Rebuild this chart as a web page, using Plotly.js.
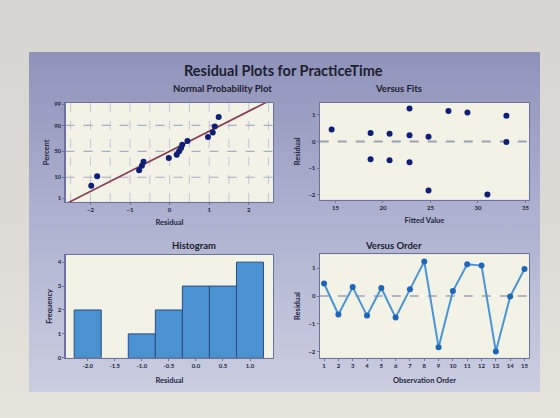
<!DOCTYPE html>
<html>
<head>
<meta charset="utf-8">
<script src="https://cdn.plot.ly/plotly-3.0.1.min.js"></script>
<style>
html,body{margin:0;padding:0;width:560px;height:418px;overflow:hidden;
  background:linear-gradient(to bottom,#d6d5d1 0%,#dcdbd6 60%,#e6e4dc 100%);}
#panel{position:absolute;left:29px;top:52px;width:511px;height:340px;
  background:linear-gradient(to bottom,#8f93ba 0%,#acafce 45%,#cbcee0 100%);}
#chart{position:absolute;left:0;top:0;width:560px;height:418px;}
</style>
</head>
<body>
<div id="panel"></div>
<div id="chart"></div>
<script>
// ---- data ----
var observation = [1,2,3,4,5,6,7,8,9,10,11,12,13,14,15];
var residuals   = [0.45,-0.66,0.32,-0.70,0.29,-0.77,0.24,1.24,-1.83,0.18,1.14,1.09,-1.98,-0.02,0.97];
var fittedValues= [14.6,18.7,18.7,20.7,20.7,22.8,22.8,22.8,24.8,24.8,26.9,28.9,31.0,33.0,33.0];
var probPercent = [4.5,11.0,17.5,24.0,30.5,37.0,43.5,50.0,56.5,63.0,69.5,76.0,82.5,89.0,95.5];
var binCenters  = [-2.0,-1.5,-1.0,-0.5,0.0,0.5,1.0];
var binCounts   = [2,0,1,2,3,3,4];
var percentTicks = [1,10,50,90,99];
var fitTicks = [15,20,25,30,35];
var histTicks = [-2.0,-1.5,-1.0,-0.5,0.0,0.5,1.0];
var histTickText = ["-2.0","-1.5","-1.0","-0.5","0.0","0.5","1.0"];

// inverse normal CDF (probability-scale transform)
function invNorm(p){
  var a=[-39.69683028665376,220.9460984245205,-275.9285104469687,138.3577518672690,-30.66479806614716,2.506628277459239];
  var b=[-54.47609879822406,161.5858368580409,-155.6989798598866,66.80131188771972,-13.28068155288572];
  var c=[-0.007784894002430293,-0.3223964580411365,-2.400758277161838,-2.549732539343734,4.374664141464968,2.938163982698783];
  var d=[0.007784695709041462,0.3224671290700398,2.445134137142996,3.754408661907416];
  var pl=0.02425,q,r;
  if(p<pl){q=Math.sqrt(-2*Math.log(p));return (((((c[0]*q+c[1])*q+c[2])*q+c[3])*q+c[4])*q+c[5])/((((d[0]*q+d[1])*q+d[2])*q+d[3])*q+1);}
  if(p>1-pl){q=Math.sqrt(-2*Math.log(1-p));return -(((((c[0]*q+c[1])*q+c[2])*q+c[3])*q+c[4])*q+c[5])/((((d[0]*q+d[1])*q+d[2])*q+d[3])*q+1);}
  q=p-0.5;r=q*q;return (((((a[0]*r+a[1])*r+a[2])*r+a[3])*r+a[4])*r+a[5])*q/(((((b[0]*r+b[1])*r+b[2])*r+b[3])*r+b[4])*r+1);
}

var sorted = residuals.slice().sort(function(a,b){return a-b;});
var n = residuals.length;
var mean = residuals.reduce(function(s,v){return s+v;},0)/n;
var sd = Math.sqrt(residuals.reduce(function(s,v){return s+(v-mean)*(v-mean);},0)/(n-1));
var zLine = [invNorm(0.005), invNorm(0.995)];
var xLine = zLine.map(function(z){return mean+sd*z;});

// non-empty bins only (an empty bin draws nothing)
var barX = [], barY = [];
binCounts.forEach(function(c,i){ if(c>0){ barX.push(binCenters[i]); barY.push(c);} });

var dotColor = '#0f1f78';
var tickFont = {family:'Lato, "Open Sans", sans-serif', size:6, color:'#23263f', weight:'bold'};
var axTitleFont = {family:'Lato, "Open Sans", sans-serif', size:7.5, color:'#23263f', weight:'bold'};
var borderColor = '#6d71a0';

function baseAxis(extra){
  var o = {showline:true, mirror:true, linecolor:borderColor, linewidth:1.2,
    ticks:'outside', ticklen:2, tickcolor:borderColor, tickfont:tickFont,
    zeroline:false, showgrid:false, fixedrange:true};
  for (var k in extra) o[k]=extra[k];
  return o;
}

var traces = [
  {x:xLine, y:zLine, xaxis:'x', yaxis:'y', mode:'lines', line:{color:'#8a3a4e', width:1.6}, hoverinfo:'skip'},
  {x:sorted, y:probPercent.map(function(p){return invNorm(p/100);}), xaxis:'x', yaxis:'y',
   mode:'markers', marker:{color:dotColor, size:6}},
  {x:fittedValues, y:residuals, xaxis:'x2', yaxis:'y2', mode:'markers', marker:{color:dotColor, size:6}},
  {x:barX, y:barY, xaxis:'x3', yaxis:'y3', type:'bar', width:0.5,
   marker:{color:'#4b92d3', line:{color:'#2b4c7e', width:1}}},
  {x:observation, y:residuals, xaxis:'x4', yaxis:'y4', mode:'lines+markers',
   line:{color:'#4a94d6', width:2}, marker:{color:'#1f66b8', size:6}}
];

var layout = {
  width:560, height:418, margin:{l:0,r:0,t:0,b:0},
  paper_bgcolor:'rgba(0,0,0,0)', plot_bgcolor:'#f2f2e7',
  showlegend:false, bargap:0,
  font:{family:'Lato, "Open Sans", sans-serif', color:'#2a2d4a'},
  xaxis: baseAxis({domain:[0.117,0.488], anchor:'y', range:[-2.63,2.62],
    tickvals:[-2,-1,0,1,2],
    title:{text:'Residual', font:axTitleFont, standoff:7}}),
  yaxis: baseAxis({domain:[0.517,0.754], anchor:'x', range:[-2.5,2.4],
    tickvals:percentTicks.map(function(p){return invNorm(p/100);}),
    ticktext:percentTicks.map(String),
    title:{text:'Percent', font:axTitleFont, standoff:3}}),
  xaxis2: baseAxis({domain:[0.571,0.945], anchor:'y2', range:[13.35,35.4], tickvals:fitTicks,
    title:{text:'Fitted Value', font:axTitleFont, standoff:7}}),
  yaxis2: baseAxis({domain:[0.522,0.754], anchor:'x2', range:[-2.18,1.45], tickvals:[-2,-1,0,1],
    title:{text:'Residual', font:axTitleFont, standoff:6}}),
  xaxis3: baseAxis({domain:[0.117,0.488], anchor:'y3', range:[-2.41,1.43],
    tickvals:histTicks, ticktext:histTickText,
    title:{text:'Residual', font:axTitleFont, standoff:9}}),
  yaxis3: baseAxis({domain:[0.144,0.39], anchor:'x3', range:[0,4.3], tickvals:[0,1,2,3,4],
    title:{text:'Frequency', font:axTitleFont, standoff:4}}),
  xaxis4: baseAxis({domain:[0.571,0.945], anchor:'y4', range:[0.7,15.33], tickvals:observation,
    title:{text:'Observation Order', font:axTitleFont, standoff:9}}),
  yaxis4: baseAxis({domain:[0.144,0.392], anchor:'x4', range:[-2.21,1.5], tickvals:[-2,-1,0,1],
    title:{text:'Residual', font:axTitleFont, standoff:6}}),
  shapes: [],
  annotations: [
    {text:'Residual Plots for PracticeTime', xref:'paper', yref:'paper', x:0.506, y:1-70/418,
     yanchor:'middle', showarrow:false, font:{size:14.5, weight:'bold', color:'#1c1d2e'}},
    {text:'Normal Probability Plot', xref:'paper', yref:'paper', x:0.305, y:1-88/418,
     yanchor:'middle', showarrow:false, font:{size:9.5, weight:'bold', color:'#1c1d2e'}},
    {text:'Versus Fits', xref:'paper', yref:'paper', x:0.758, y:1-88/418,
     yanchor:'middle', showarrow:false, font:{size:9.5, weight:'bold', color:'#1c1d2e'}},
    {text:'Histogram', xref:'paper', yref:'paper', x:0.303, y:1-245/418,
     yanchor:'middle', showarrow:false, font:{size:9.5, weight:'bold', color:'#1c1d2e'}},
    {text:'Versus Order', xref:'paper', yref:'paper', x:0.758, y:1-245/418,
     yanchor:'middle', showarrow:false, font:{size:9.5, weight:'bold', color:'#1c1d2e'}}
  ]
};

// grid for normal probability plot (dashed)
[-2.5,-2,-1.5,-1,-0.5,0,0.5,1,1.5,2,2.5].forEach(function(v){
  layout.shapes.push({type:'line', xref:'x', yref:'y domain', x0:v, x1:v, y0:0, y1:1, layer:'below',
    line:{color:'#c3c6da', width:1, dash:'dash'}});
});
[10,50,90].forEach(function(p){
  var z = invNorm(p/100);
  layout.shapes.push({type:'line', xref:'x domain', yref:'y', x0:0, x1:1, y0:z, y1:z, layer:'below',
    line:{color:'#a9adc8', width:1.2, dash:'dash'}});
});
// zero reference lines
layout.shapes.push({type:'line', xref:'x2 domain', yref:'y2', x0:0, x1:1, y0:0, y1:0, layer:'below',
  line:{color:'#9da1b8', width:2, dash:'dash'}});
layout.shapes.push({type:'line', xref:'x4 domain', yref:'y4', x0:0, x1:1, y0:0, y1:0, layer:'below',
  line:{color:'#b3b6c8', width:2, dash:'dash'}});

Plotly.newPlot('chart', traces, layout, {staticPlot:true, displayModeBar:false});
</script>
</body>
</html>
